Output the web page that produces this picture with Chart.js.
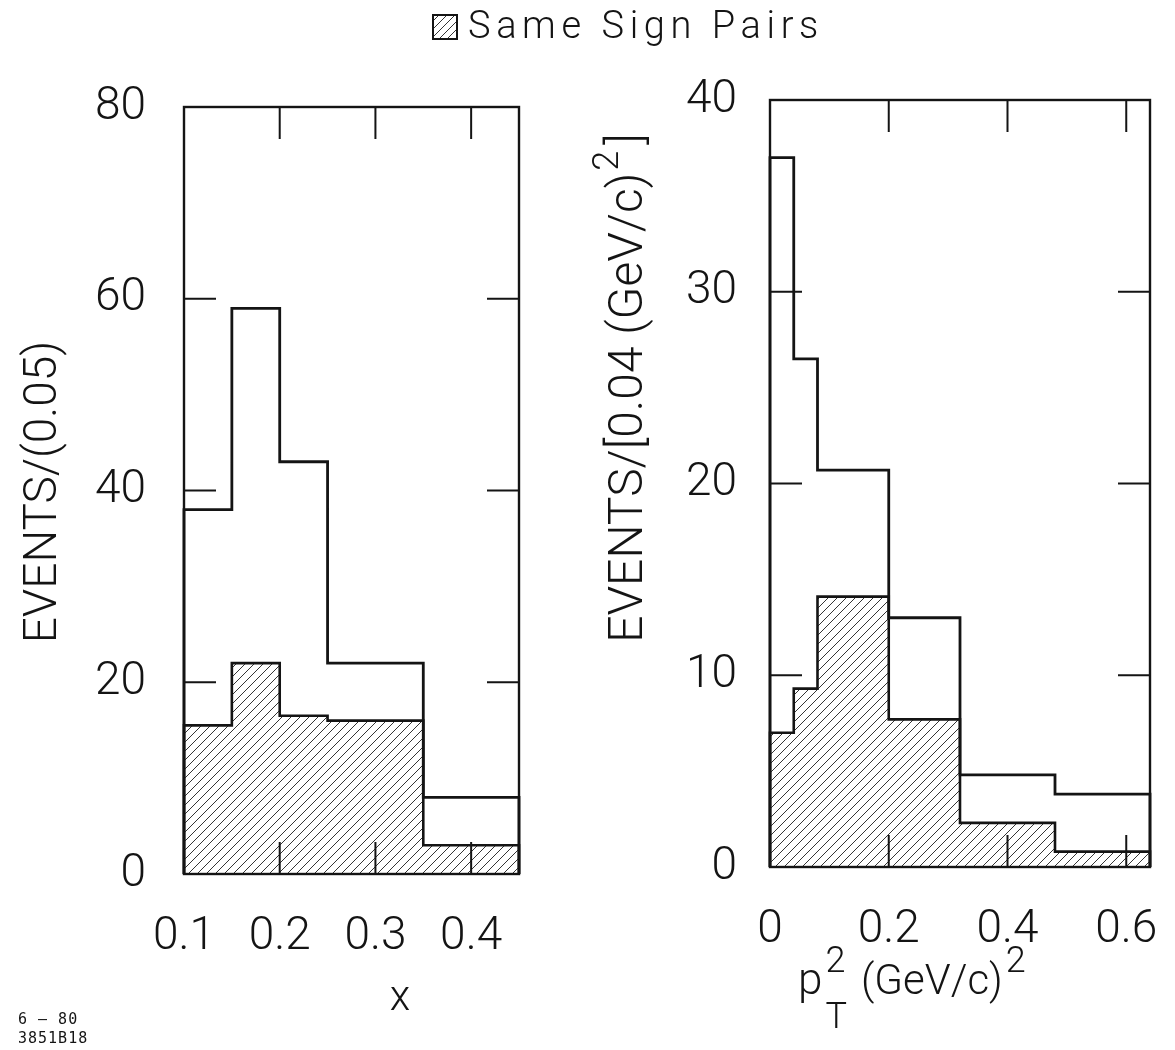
<!DOCTYPE html>
<html>
<head>
<meta charset="utf-8">
<title>Same Sign Pairs</title>
<script src="https://cdn.jsdelivr.net/npm/chart.js@4.4.1/dist/chart.umd.min.js"></script>
<style>
  body { margin: 0; background: #fff; }
  #page { position: relative; width: 1175px; height: 1050px; overflow: hidden; color: #141414; }
  .panel { position: absolute; top: 0; }
  #legend {
    position: absolute; top: 3px; left: 432px; white-space: nowrap;
    font: 300 38px Roboto, "Liberation Sans", sans-serif; letter-spacing: 5.6px;
  }
  #legend canvas { vertical-align: -2px; margin-right: 10px; }
  #stamp {
    position: absolute; left: 18px; top: 1010px;
    font: 15px "DejaVu Sans Mono", monospace; line-height: 19px; letter-spacing: 1px;
  }
</style>
</head>
<body>
<div id="page">
  <canvas id="xChart" class="panel" style="left:0" width="560" height="1050"></canvas>
  <canvas id="ptChart" class="panel" style="left:580px" width="595" height="1050"></canvas>
  <div id="legend"><canvas id="swatch" width="26" height="26"></canvas>Same Sign Pairs</div>
  <div id="stamp">6 &#8211; 80<br>3851B18</div>
</div>
<script>
// x distribution, events per 0.05
const xEdges = [0.10, 0.15, 0.20, 0.25, 0.35, 0.45];
const xAllPairs = [38, 59, 43, 22, 8];
const xSameSign = [15.5, 22, 16.5, 16, 3];
const xTicks = [0.1, 0.2, 0.3, 0.4];
const xCountTicks = [0, 20, 40, 60, 80];

// pT^2 distribution, events per 0.04 (GeV/c)^2
const ptEdges = [0, 0.04, 0.08, 0.20, 0.32, 0.48, 0.64];
const ptAllPairs = [37, 26.5, 20.7, 13, 4.8, 3.8];
const ptSameSign = [7, 9.3, 14.1, 7.7, 2.3, 0.8];
const ptTicks = [0, 0.2, 0.4, 0.6];
const ptCountTicks = [0, 10, 20, 30, 40];

const FAMILY = 'Roboto, "Liberation Sans", sans-serif';
const INK = '#141414';
const font = size => `300 ${size}px ${FAMILY}`;

// outline of a histogram: up from zero at the first edge, steps, back down at the last edge
function stepPoints(edges, counts) {
  const last = edges[edges.length - 1];
  const pts = [{ x: edges[0], y: 0 }];
  counts.forEach((c, i) => pts.push({ x: edges[i], y: c }));
  pts.push({ x: last, y: counts[counts.length - 1] });
  pts.push({ x: last, y: 0 });
  return pts;
}

function hatchPattern(ctx, step) {
  const c = document.createElement('canvas');
  c.width = c.height = step;
  const g = c.getContext('2d');
  g.strokeStyle = '#2a2a2a';
  g.lineWidth = 0.95;
  g.beginPath();
  g.moveTo(0, step); g.lineTo(step, 0);
  g.moveTo(-1, 1); g.lineTo(1, -1);
  g.moveTo(step - 1, step + 1); g.lineTo(step + 1, step - 1);
  g.stroke();
  return ctx.createPattern(c, 'repeat');
}

// text made of runs, for super- and subscripts
function drawRuns(ctx, runs, x, y, align) {
  let total = 0;
  const laid = runs.map(r => {
    ctx.font = font(r.size);
    const w = ctx.measureText(r.text).width;
    const adv = r.stack ? 0 : (r.lead || 0) + w;
    total += adv;
    return Object.assign({}, r, { adv });
  });
  let cx = align === 'center' ? x - total / 2 : x;
  laid.forEach(r => {
    ctx.font = font(r.size);
    ctx.fillText(r.text, cx + (r.lead || 0), y + (r.dy || 0));
    cx += r.adv;
  });
}

// closed box with inward tick marks on all four sides
const framePlugin = {
  id: 'frame',
  afterDatasetsDraw(chart) {
    const { ctx, chartArea: a, scales: { x, y } } = chart;
    const len = 32;
    const inner = (s, vals) => vals.filter(v => v > s.min && v < s.max);
    ctx.save();
    ctx.strokeStyle = INK;
    ctx.lineWidth = 2.4;
    ctx.strokeRect(a.left, a.top, a.width, a.height);
    ctx.lineWidth = 2;
    ctx.beginPath();
    inner(x, x.ticks.map(t => t.value)).forEach(v => {
      const px = x.getPixelForValue(v);
      ctx.moveTo(px, a.bottom); ctx.lineTo(px, a.bottom - len);
      ctx.moveTo(px, a.top); ctx.lineTo(px, a.top + len);
    });
    inner(y, y.ticks.map(t => t.value)).forEach(v => {
      const py = y.getPixelForValue(v);
      ctx.moveTo(a.left, py); ctx.lineTo(a.left + len, py);
      ctx.moveTo(a.right, py); ctx.lineTo(a.right - len, py);
    });
    ctx.stroke();
    ctx.restore();
  }
};

function titlesPlugin(t) {
  return {
    id: 'titles',
    afterDraw(chart) {
      const ctx = chart.ctx;
      ctx.save();
      ctx.fillStyle = INK;
      ctx.textBaseline = 'alphabetic';
      ctx.save();
      ctx.translate(t.yAt[0], t.yAt[1]);
      ctx.rotate(-Math.PI / 2);
      drawRuns(ctx, t.yRuns, 0, 0, 'center');
      ctx.restore();
      drawRuns(ctx, t.xRuns, t.xAt[0], t.xAt[1], t.xAlign);
      ctx.restore();
    }
  };
}

function histChart(id, cfg) {
  const ctx = document.getElementById(id).getContext('2d');
  const tickFont = { family: FAMILY, size: 46, weight: 300 };
  return new Chart(ctx, {
    type: 'line',
    data: {
      datasets: [
        {
          label: 'Same Sign Pairs',
          data: stepPoints(cfg.edges, cfg.same),
          stepped: true,
          borderColor: INK,
          borderWidth: 2.6,
          backgroundColor: hatchPattern(ctx, 9),
          fill: 'origin',
          pointRadius: 0,
          clip: false,
        },
        {
          label: 'All Pairs',
          data: stepPoints(cfg.edges, cfg.all),
          stepped: true,
          borderColor: INK,
          borderWidth: 2.8,
          fill: false,
          pointRadius: 0,
          clip: false,
        },
      ],
    },
    options: {
      responsive: false,
      animation: false,
      events: [],
      layout: { padding: cfg.padding, autoPadding: false },
      plugins: { legend: { display: false }, tooltip: { enabled: false } },
      scales: {
        x: {
          type: 'linear',
          min: cfg.xMin,
          max: cfg.xMax,
          grid: { display: false, drawTicks: false },
          border: { display: false },
          afterBuildTicks: s => { s.ticks = cfg.xTicks.map(v => ({ value: v })); },
          // fixed box; edge labels may hang over the frame without shrinking it
          afterFit: s => { s.height = 120; s.paddingLeft = 0; s.paddingRight = 0; },
          ticks: {
            padding: 36, color: INK, font: tickFont,
            autoSkip: false, maxRotation: 0, callback: v => String(v),
          },
        },
        y: {
          type: 'linear',
          min: cfg.yTicks[0],
          max: cfg.yTicks[cfg.yTicks.length - 1],
          grid: { display: false, drawTicks: false },
          border: { display: false },
          afterBuildTicks: s => { s.ticks = cfg.yTicks.map(v => ({ value: v })); },
          afterFit: s => { s.width = cfg.yWidth; s.paddingTop = 0; s.paddingBottom = 0; },
          ticks: {
            padding: cfg.yPad, color: INK, font: tickFont,
            autoSkip: false, callback: v => String(v),
          },
        },
      },
    },
    plugins: [framePlugin, titlesPlugin(cfg.titles)],
  });
}

histChart('xChart', {
  edges: xEdges, all: xAllPairs, same: xSameSign,
  xMin: 0.10, xMax: 0.45, xTicks: xTicks, yTicks: xCountTicks,
  yWidth: 184, yPad: 38,
  padding: { top: 107, right: 41, bottom: 56, left: 0 },
  titles: {
    yAt: [56, 492],
    yRuns: [{ text: 'EVENTS/(0.05)', size: 46 }],
    xAt: [400, 1010], xAlign: 'center',
    xRuns: [{ text: 'x', size: 42 }],
  },
});

histChart('ptChart', {
  edges: ptEdges, all: ptAllPairs, same: ptSameSign,
  xMin: 0, xMax: 0.64, xTicks: ptTicks, yTicks: ptCountTicks,
  yWidth: 190, yPad: 33,
  padding: { top: 100, right: 25, bottom: 63, left: 0 },
  titles: {
    yAt: [62, 388],
    yRuns: [
      { text: 'EVENTS/[0.04 (GeV/c)', size: 48 },
      { text: '2', size: 36, dy: -24, lead: 2 },
      { text: ']', size: 48, lead: 6 },
    ],
    xAt: [218, 994], xAlign: 'left',
    xRuns: [
      { text: 'p', size: 44 },
      { text: '2', size: 36, dy: -22, lead: 3, stack: true },
      { text: 'T', size: 36, dy: 34, lead: 3 },
      { text: '(GeV/c)', size: 42, lead: 14 },
      { text: '2', size: 36, dy: -22, lead: 3 },
    ],
  },
});

// legend swatch: open box with the same hatching
(function () {
  const g = document.getElementById('swatch').getContext('2d');
  g.fillStyle = hatchPattern(g, 8);
  g.fillRect(2, 2, 22, 22);
  g.strokeStyle = INK;
  g.lineWidth = 2;
  g.strokeRect(1, 1, 24, 24);
})();
</script>
</body>
</html>
